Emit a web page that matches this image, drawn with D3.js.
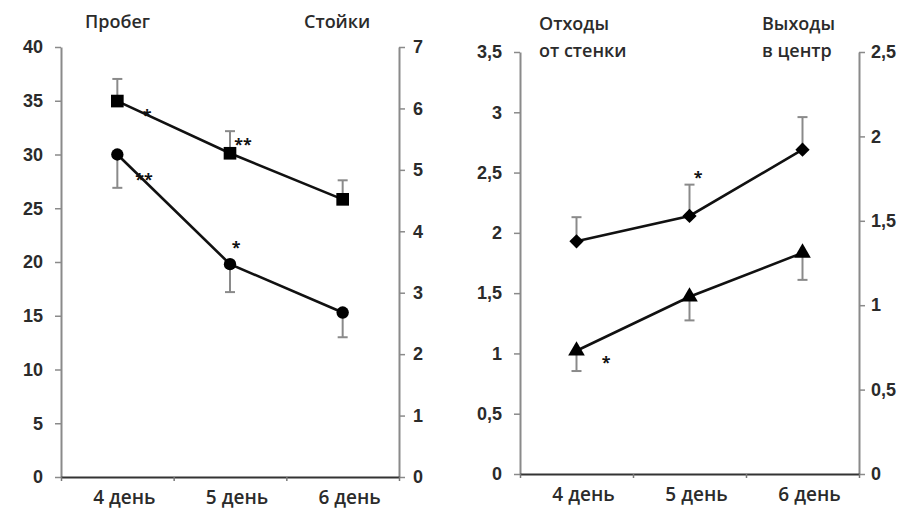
<!DOCTYPE html>
<html>
<head>
<meta charset="utf-8">
<script src="https://cdn.jsdelivr.net/npm/d3@7"></script>
<style>
  html, body { margin: 0; padding: 0; background: #fff; }
  svg { display: block; font-family: "Open Sans", "DejaVu Sans", sans-serif; }
  .tick text { fill: #2b2b2b; font-weight: 600; }
</style>
</head>
<body>
<svg id="chart" width="905" height="513"></svg>
<script>
// Shared categories
const days = ["4 день", "5 день", "6 день"];

// Left panel: run distance (left axis) and rearings (right axis)
const probegValues = [30, 19.8, 15.3];
const probegErrLow = [26.9, 17.2, 13.0];
const stoikiValues = [6.12, 5.27, 4.52];
const stoikiErrHigh = [6.48, 5.63, 4.83];
const probegTicks = [0, 5, 10, 15, 20, 25, 30, 35, 40];
const stoikiTicks = [0, 1, 2, 3, 4, 5, 6, 7];

// Right panel: wall departures (left axis) and center entries (right axis)
const otkhodyValues = [1.93, 2.14, 2.69];
const otkhodyErrHigh = [2.13, 2.40, 2.96];
const vykhodyValues = [0.73, 1.05, 1.31];
const vykhodyErrLow = [0.61, 0.91, 1.15];
const otkhodyTicks = [0, 0.5, 1, 1.5, 2, 2.5, 3, 3.5];
const vykhodyTicks = [0, 0.5, 1, 1.5, 2, 2.5];

const svg = d3.select("#chart");
const fmt = d => String(d).replace(".", ",");
const TEXT = "#2b2b2b";

function panel(cfg) {
  const g = svg.append("g");
  const x = d3.scaleBand().domain(days).range([cfg.x0, cfg.x1]);
  const yL = d3.scaleLinear().domain(cfg.leftDomain).range([cfg.yBottom, cfg.yTop]);
  const yR = d3.scaleLinear().domain(cfg.rightDomain).range([cfg.yBottom, cfg.yTop]);

  // left axis
  const la = g.append("g").attr("transform", `translate(${cfg.x0},0)`)
    .call(d3.axisLeft(yL).tickValues(cfg.leftTicks).tickFormat(fmt).tickSize(6).tickPadding(12).tickSizeOuter(0));
  la.select(".domain").attr("stroke", "#8a8a8a").attr("stroke-width", 2);
  la.selectAll(".tick line").attr("stroke", "#8a8a8a").attr("stroke-width", 1.5);
  la.selectAll(".tick text").style("font-size", "18px");

  // right axis
  const ra = g.append("g").attr("transform", `translate(${cfg.x1},0)`)
    .call(d3.axisRight(yR).tickValues(cfg.rightTicks).tickFormat(fmt).tickSize(6).tickPadding(cfg.rightPad).tickSizeOuter(0));
  ra.select(".domain").attr("stroke", "#8a8a8a").attr("stroke-width", 2);
  ra.selectAll(".tick line").attr("stroke", "#8a8a8a").attr("stroke-width", 1.5);
  ra.selectAll(".tick text").style("font-size", "18px");

  // bottom axis: category separators as ticks
  const bx = d3.scaleLinear().domain([0, 3]).range([cfg.x0, cfg.x1]);
  const ba = g.append("g").attr("transform", `translate(0,${cfg.yBottom})`)
    .call(d3.axisBottom(bx).tickValues([0, 1, 2, 3]).tickFormat("").tickSize(4).tickSizeOuter(0));
  ba.select(".domain").attr("stroke", "#333").attr("stroke-width", 2.2);
  ba.selectAll(".tick line").attr("stroke", "#777").attr("stroke-width", 1.5);

  g.selectAll(".daylabel").data(days).enter().append("text")
    .attr("class", "daylabel")
    .attr("x", d => x(d) + x.bandwidth() / 2 + 7)
    .attr("y", cfg.yBottom + 27)
    .attr("text-anchor", "middle")
    .style("font-size", "19px").style("font-weight", 600).attr("fill", TEXT)
    .text(d => d);

  return { g, x, yL, yR };
}

function errorBars(g, x, y, vals, ends) {
  const cx = d => x(d) + x.bandwidth() / 2;
  g.selectAll(null).data(days).enter().append("line")
    .attr("x1", cx).attr("x2", cx)
    .attr("y1", (d, i) => y(vals[i])).attr("y2", (d, i) => y(ends[i]))
    .attr("stroke", "#8a8a8a").attr("stroke-width", 2);
  g.selectAll(null).data(days).enter().append("line")
    .attr("x1", d => cx(d) - 5).attr("x2", d => cx(d) + 5)
    .attr("y1", (d, i) => y(ends[i])).attr("y2", (d, i) => y(ends[i]))
    .attr("stroke", "#8a8a8a").attr("stroke-width", 2);
}

function series(g, x, y, vals, symbolType, size) {
  const cx = d => x(d) + x.bandwidth() / 2;
  const line = d3.line().x(d => cx(d)).y((d, i) => y(vals[i]));
  g.append("path").datum(days).attr("d", line)
    .attr("fill", "none").attr("stroke", "#111").attr("stroke-width", 2.6);
  g.selectAll(null).data(days).enter().append("path")
    .attr("transform", (d, i) => `translate(${cx(d)},${y(vals[i])})`)
    .attr("d", d3.symbol().type(symbolType).size(size))
    .attr("fill", "#000");
}

function title(lines, x, y) {
  const t = svg.append("text").attr("x", x).attr("y", y)
    .style("font-size", "18px").style("font-weight", 600).attr("fill", TEXT);
  lines.forEach((s, i) => t.append("tspan").attr("x", x).attr("dy", i === 0 ? 0 : 27).text(s));
}

function star(txt, x, y) {
  svg.append("text").attr("x", x).attr("y", y).attr("text-anchor", "middle")
    .style("font-size", "16px").style("font-weight", "bold").attr("fill", "#111").text(txt);
}

// ---- Left panel
const L = panel({
  x0: 61, x1: 399, yTop: 47, yBottom: 477, rightPad: 8,
  leftDomain: [0, 40], rightDomain: [0, 7],
  leftTicks: probegTicks, rightTicks: stoikiTicks
});
errorBars(L.g, L.x, L.yL, probegValues, probegErrLow);
errorBars(L.g, L.x, L.yR, stoikiValues, stoikiErrHigh);
series(L.g, L.x, L.yL, probegValues, d3.symbolCircle, 120);
series(L.g, L.x, L.yR, stoikiValues, d3.symbolSquare, 160);
title(["Пробег"], 85, 28);
title(["Стойки"], 304, 28);
star("*", 147, 121);
star("**", 243, 150);
star("**", 144, 185);
star("*", 236, 253);

// ---- Right panel
const R = panel({
  x0: 520, x1: 859, yTop: 52, yBottom: 474, rightPad: 6,
  leftDomain: [0, 3.5], rightDomain: [0, 2.5],
  leftTicks: otkhodyTicks, rightTicks: vykhodyTicks
});
errorBars(R.g, R.x, R.yL, otkhodyValues, otkhodyErrHigh);
errorBars(R.g, R.x, R.yR, vykhodyValues, vykhodyErrLow);
series(R.g, R.x, R.yL, otkhodyValues, d3.symbolDiamond2, 130);
series(R.g, R.x, R.yR, vykhodyValues, d3.symbolTriangle, 120);
title(["Отходы", "от стенки"], 539, 30);
title(["Выходы", "в центр"], 762, 30);
star("*", 698, 183);
star("*", 606, 368);
</script>
</body>
</html>
